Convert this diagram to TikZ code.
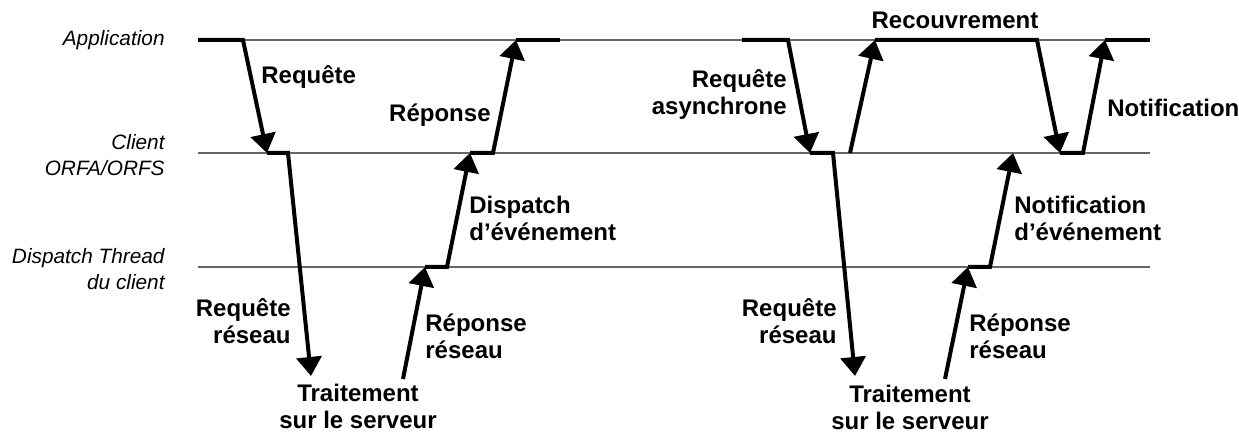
\documentclass[tikz,border=0pt]{standalone}
\usepackage{fontspec}
\setmainfont{Liberation Sans}
\usetikzlibrary{arrows.meta}

\begin{document}
\begin{tikzpicture}[x=0.5pt,y=-0.5pt,
    level/.style={black!60,line width=0.6pt},
    busy/.style={line width=2pt},
    msg/.style={line width=2pt,-{Triangle[length=9.5pt,width=12.5pt]}},
    lbl/.style={font=\bfseries\fontsize{12}{13.5}\selectfont,inner sep=0pt},
    lane/.style={font=\itshape\fontsize{10.4}{13}\selectfont,align=right,anchor=east,inner sep=0pt}]
    \useasboundingbox (0,0) rectangle (1239,432);

    % Levels
    \coordinate (app0) at (198,40);  \coordinate (app1) at (1150,40);
    \coordinate (cli0) at (198,153); \coordinate (cli1) at (1150,153);
    \coordinate (dsp0) at (198,267); \coordinate (dsp1) at (1150,267);
    \draw[level] (app0) -- (app1);
    \draw[level] (cli0) -- (cli1);
    \draw[level] (dsp0) -- (dsp1);

    \node[lane] (lapp) at (165,40) {Application};
    \node[lane] (lcli) at (165,155) {Client\\ORFA/ORFS};
    \node[lane] (ldsp) at (165,269) {Dispatch Thread\\du client};

    % Synchronous request
    \coordinate (s1) at (243,40);
    \coordinate (s2) at (267,153);
    \coordinate (s3) at (288,153);
    \coordinate (s4) at (311,376);
    \coordinate (s5) at (403,379);
    \coordinate (s6) at (425,267);
    \coordinate (s7) at (447,267);
    \coordinate (s8) at (470,153);
    \coordinate (s9) at (493,153);
    \coordinate (s10) at (516,40);
    \coordinate (s11) at (560,40);
    \draw[msg] (app0) -- (s1) -- (s2);
    \draw[msg] (s2) -- (s3) -- (s4);
    \draw[msg] (s5) -- (s6);
    \draw[msg] (s6) -- (s7) -- (s8);
    \draw[msg] (s8) -- (s9) -- (s10);
    \draw[busy] (s10) -- (s11);

    \node[lbl,anchor=west] (sreq) at (261,77) {Requête};
    \node[lbl,anchor=east] (srep) at (491,115) {Réponse};
    \node[lbl,anchor=west,align=left] (sdsp) at (469,218) {Dispatch\\d’événement};
    \node[lbl,anchor=east,align=right] (snreq) at (291,321) {Requête\\réseau};
    \node[lbl,anchor=west,align=left] (snrep) at (425,336) {Réponse\\réseau};
    \node[lbl,align=center] (ssrv) at (358,406) {Traitement\\sur le serveur};

    % Asynchronous request
    \coordinate (a0) at (742,40);
    \coordinate (a1) at (788,40);
    \coordinate (a2) at (810,153);
    \coordinate (a3) at (833,153);
    \coordinate (a4) at (855,376);
    \coordinate (a5) at (850,153);
    \coordinate (a6) at (875,40);
    \coordinate (a7) at (1037,40);
    \coordinate (a8) at (1060,153);
    \coordinate (a9) at (1083,153);
    \coordinate (a10) at (1105,40);
    \coordinate (a11) at (945,379);
    \coordinate (a12) at (968,267);
    \coordinate (a13) at (990,267);
    \coordinate (a14) at (1013,153);
    \draw[msg] (a0) -- (a1) -- (a2);
    \draw[msg] (a2) -- (a3) -- (a4);
    \draw[msg] (a5) -- (a6);
    \draw[msg] (a6) -- (a7) -- (a8);
    \draw[msg] (a8) -- (a9) -- (a10);
    \draw[busy] (a10) -- (app1);
    \draw[msg] (a11) -- (a12);
    \draw[msg] (a12) -- (a13) -- (a14);

    \node[lbl,anchor=east,align=right] (areq) at (787,95) {Requête\\asynchrone};
    \node[lbl] (arec) at (955,20) {Recouvrement};
    \node[lbl,anchor=west] (anot) at (1107,108) {Notification};
    \node[lbl,anchor=west,align=left] (aevt) at (1014,218) {Notification\\d’événement};
    \node[lbl,anchor=east,align=right] (anreq) at (837,321) {Requête\\réseau};
    \node[lbl,anchor=west,align=left] (anrep) at (969,336) {Réponse\\réseau};
    \node[lbl,align=center] (asrv) at (910,407) {Traitement\\sur le serveur};
\end{tikzpicture}
\end{document}
